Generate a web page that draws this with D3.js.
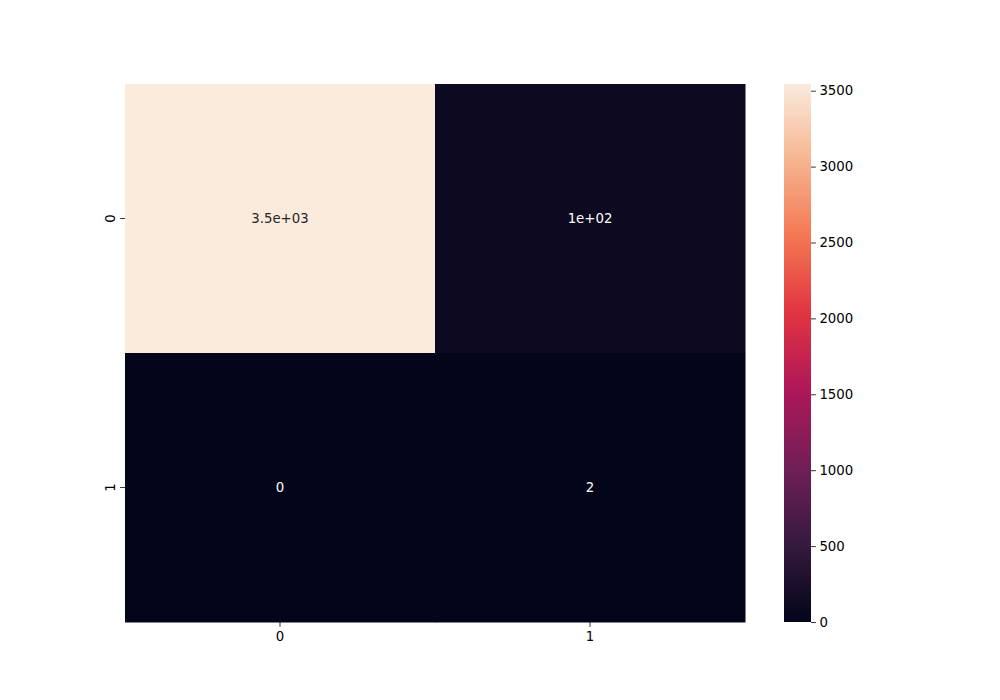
<!DOCTYPE html>
<html><head><meta charset="utf-8">
<script src="https://cdn.jsdelivr.net/npm/d3@7"></script>
<style>body{margin:0;background:#fff}svg{font-family:"DejaVu Sans",sans-serif}</style>
</head><body><svg id="c" width="1000" height="700"></svg>
<script>
const rowLabels = ["0", "1"];
const colLabels = ["0", "1"];
const values = [[3544, 100], [0, 2]];
const annotations = [["3.5e+03", "1e+02"], ["0", "2"]];
const cbarTicks = [0, 500, 1000, 1500, 2000, 2500, 3000, 3500];
const rocketStops = ["#03051A", "#35193e", "#701f57", "#ad1759", "#e13342", "#f37651", "#f6b48f", "#FAEBDD"];

const svg = d3.select("#c");
const L = 125, R = 745, T = 84, B = 622;
const vmax = d3.max(values.flat()), vmin = d3.min(values.flat());
const interp = d3.interpolateRgbBasis ? d3.piecewise(d3.interpolateRgb, rocketStops) : null;
const color = d3.scaleSequential(interp).domain([vmin, vmax]);

const x = d3.scaleBand().domain(colLabels).range([L, R]);
const y = d3.scaleBand().domain(rowLabels).range([T, B]);

const cells = [];
rowLabels.forEach((r, i) => colLabels.forEach((c, j) => cells.push({r, c, v: values[i][j], a: annotations[i][j]})));

svg.selectAll("rect.cell").data(cells).join("rect")
  .attr("x", d => x(d.c)).attr("y", d => y(d.r))
  .attr("width", x.bandwidth() + 0.5).attr("height", y.bandwidth() + 0.5)
  .attr("fill", d => color(d.v));

svg.selectAll("text.ann").data(cells).join("text")
  .attr("x", d => x(d.c) + x.bandwidth() / 2).attr("y", d => y(d.r) + y.bandwidth() / 2)
  .attr("text-anchor", "middle").attr("dominant-baseline", "central")
  .attr("font-size", "13.3px")
  .attr("fill", d => (d.v / vmax) > 0.5 ? "#262626" : "#ffffff")
  .text(d => d.a);

// axes
const xAxis = d3.axisBottom(x).tickSize(4.9).tickPadding(4.5);
const gx = svg.append("g").attr("transform", `translate(0,${B})`).call(xAxis);
gx.select(".domain").remove();
gx.selectAll("text").attr("font-size", "13.3px").attr("font-family", "DejaVu Sans").attr("fill", "#000");
gx.selectAll("line").attr("stroke", "#000").attr("stroke-width", 0.8);

const yAxis = d3.axisLeft(y).tickSize(4.9).tickPadding(4.5);
const gy = svg.append("g").attr("transform", `translate(${L},0)`).call(yAxis);
gy.select(".domain").remove();
gy.selectAll("line").attr("stroke", "#000").attr("stroke-width", 0.8);
gy.selectAll("text").attr("font-size", "13.3px").attr("font-family", "DejaVu Sans").attr("fill", "#000")
  .attr("text-anchor", "middle").attr("dy", null).attr("dominant-baseline", "auto")
  .attr("transform", "rotate(-90)").attr("x", 0).attr("y", -13)
  .each(function(){ const t = d3.select(this); });
gy.selectAll(".tick text").attr("transform", "rotate(-90)").attr("x", 0).attr("y", -10);

// colorbar
const CL = 784, CR = 811;
const cy = d3.scaleLinear().domain([vmin, vmax]).range([B, T]);
const defs = svg.append("defs");
const grad = defs.append("linearGradient").attr("id", "cb").attr("x1", 0).attr("y1", 1).attr("x2", 0).attr("y2", 0);
d3.range(0, 1.0001, 0.02).forEach(t => grad.append("stop").attr("offset", t).attr("stop-color", interp(t)));
svg.append("rect").attr("x", CL).attr("y", T).attr("width", CR - CL).attr("height", B - T).attr("fill", "url(#cb)");
const cAxis = d3.axisRight(cy).tickValues(cbarTicks).tickFormat(d3.format("d")).tickSize(4.9).tickPadding(3.5);
const gc = svg.append("g").attr("transform", `translate(${CR},0)`).call(cAxis);
gc.select(".domain").remove();
gc.selectAll("line").attr("stroke", "#000").attr("stroke-width", 0.8);
gc.selectAll("text").attr("font-size", "13.3px").attr("font-family", "DejaVu Sans").attr("fill", "#000");
</script></body></html>
